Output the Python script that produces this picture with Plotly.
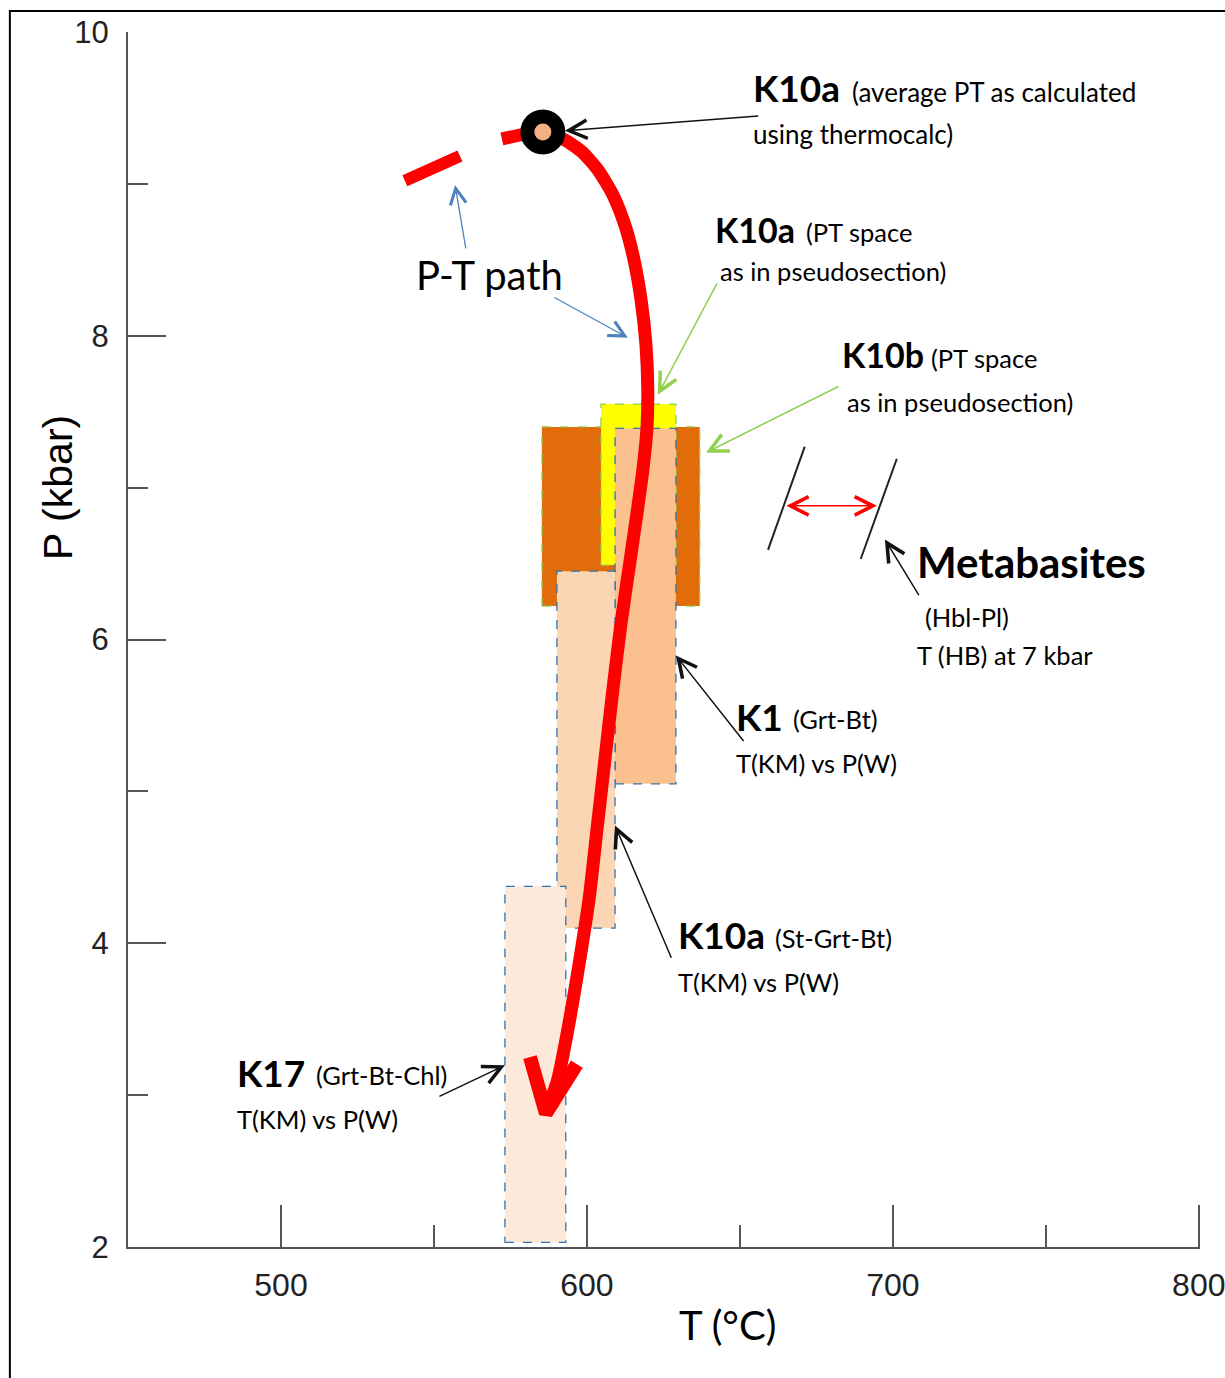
import plotly.graph_objects as go

# ---------------- data ----------------
# P-T path (main, solid)
path_T = [572.2, 585.6, 592.8, 598.4, 603.6, 608.5, 612.4, 615.4, 617.7, 619.3, 619.9,
          619.6, 618.3, 616.3, 613.7, 611.1, 608.5, 605.9, 603.3, 600.7, 597.7,
          594.4, 590.5, 586.6]
path_P = [9.296, 9.342, 9.289, 9.211, 9.092, 8.928, 8.730, 8.500, 8.237, 7.941, 7.645,
          7.382, 7.118, 6.822, 6.461, 6.099, 5.671, 5.211, 4.750, 4.289, 3.895,
          3.500, 3.105, 2.880]
# dashed (earlier) part of the path
dash_T = [540.5, 558.5]
dash_P = [9.020, 9.184]
# arrow head of the P-T path
head_T = [581.4, 586.6, 596.7]
head_P = [3.250, 2.880, 3.204]
# K10a average PT (thermocalc)
avg_T = [585.6]
avg_P = [9.342]

# PT boxes
box_names = ["K10b PT space", "K10a PT space", "K1 Grt-Bt", "K10a St-Grt-Bt", "K17 Grt-Bt-Chl"]
box_Tmin = [585.3, 604.6, 609.2, 590.2, 573.2]
box_Tmax = [636.9, 629.1, 629.1, 609.2, 593.1]
box_Pmin = [6.22, 6.49, 5.05, 4.10, 2.03]
box_Pmax = [7.40, 7.55, 7.39, 6.45, 4.375]

# Metabasites (Hbl-Pl) T(HB) lines at 7 kbar
meta1_T = [671.2, 659.2]
meta1_P = [7.27, 6.59]
meta2_T = [701.3, 689.5]
meta2_P = [7.19, 6.53]
meta_arrow_T = [664.7, 694.8]
meta_arrow_P = [6.88, 6.88]

x_ticks = [500, 600, 700, 800]
y_ticks = [2, 4, 6, 8, 10]

# ---------------- styles ----------------
box_fill = ["#E36C0A", "#FFFF00", "#FAC090", "#FCD5B4", "#FDE9D9"]
box_line = ["#92D050", "#92D050", "#2E75B6", "#2E75B6", "#2E75B6"]
CAL = "Lato, 'Open Sans', sans-serif"
NUM = "'Liberation Sans Narrow', 'Liberation Sans', Arial, sans-serif"

fig = go.Figure()

for i, name in enumerate(box_names):
    fig.add_trace(go.Scatter(
        x=[box_Tmin[i], box_Tmax[i], box_Tmax[i], box_Tmin[i], box_Tmin[i]],
        y=[box_Pmin[i], box_Pmin[i], box_Pmax[i], box_Pmax[i], box_Pmin[i]],
        mode="lines", fill="toself", fillcolor=box_fill[i],
        line=dict(color=box_line[i], width=1.3, dash="dash"),
        name=name, hoverinfo="skip"))

# P-T path
fig.add_trace(go.Scatter(x=dash_T, y=dash_P, mode="lines",
                         line=dict(color="#FF0000", width=12), hoverinfo="skip"))
fig.add_trace(go.Scatter(x=path_T, y=path_P, mode="lines",
                         line=dict(color="#FF0000", width=13, shape="spline", smoothing=0.6),
                         hoverinfo="skip"))
fig.add_trace(go.Scatter(x=head_T, y=head_P, mode="lines",
                         line=dict(color="#FF0000", width=14), hoverinfo="skip"))
fig.add_trace(go.Scatter(x=avg_T, y=avg_P, mode="markers",
                         marker=dict(size=31, color="#F4B183",
                                     line=dict(color="#000000", width=14)),
                         hoverinfo="skip"))

# metabasite lines
for tx, py in [(meta1_T, meta1_P), (meta2_T, meta2_P)]:
    fig.add_trace(go.Scatter(x=tx, y=py, mode="lines",
                             line=dict(color="#222222", width=2), hoverinfo="skip"))

ann = []

def text(x, y, s, size, bold=False, font=CAL, xanchor="left"):
    ann.append(dict(x=x, y=y, xref="x", yref="y", text=("<b>%s</b>" % s) if bold else s,
                    showarrow=False, xanchor=xanchor, yanchor="middle",
                    font=dict(family=font, size=size, color="#000000")))

def arrow(x_tail, y_tail, x_head, y_head, color, width=1.5, size=2.4, both=False):
    d = dict(x=x_head, y=y_head, ax=x_tail, ay=y_tail, xref="x", yref="y",
             axref="x", ayref="y", text="", showarrow=True, arrowhead=5,
             arrowsize=size, arrowwidth=width, arrowcolor=color, standoff=0)
    if both:
        d.update(arrowside="end+start", startarrowhead=5, startarrowsize=size, startstandoff=0)
    ann.append(d)

BIG = 37
MID = 34
SM = 25.5

# K10a average PT
text(653.5, 9.632, "K10a", BIG, bold=True)
text(686.0, 9.605, "(average PT as calculated", 26)
text(653.5, 9.329, "using thermocalc)", 26)
arrow(656.5, 9.447, 592.8, 9.349, "#111111")

# P-T path label
text(568.3, 8.40, "P-T path", 40, xanchor="center")
arrow(560.5, 8.566, 556.9, 8.993, "#4F81BD", width=1.3)
arrow(588.9, 8.257, 613.4, 7.987, "#4F81BD", width=1.3)

# K10a PT space
text(641.3, 8.697, "K10a", MID, bold=True)
text(670.8, 8.684, "(PT space", SM)
text(643.0, 8.428, "as in pseudosection)", SM)
arrow(642.8, 8.355, 623.2, 7.612, "#92D050")

# K10b PT space
text(682.8, 7.875, "K10b", MID, bold=True)
text(711.8, 7.855, "(PT space", SM)
text(684.5, 7.566, "as in pseudosection)", SM)
arrow(682.7, 7.671, 638.9, 7.230, "#92D050")

# Metabasites
text(707.3, 6.513, "Metabasites", 42, bold=True)
text(710.0, 6.151, "(Hbl-Pl)", SM)
text(707.3, 5.895, "T (HB) at 7 kbar", SM)
arrow(708.8, 6.283, 697.4, 6.658, "#111111")
arrow(meta_arrow_T[0], meta_arrow_P[0], meta_arrow_T[1], meta_arrow_P[1], "#FF0000",
      width=1.5, size=2.4, both=True)

# K1
text(648.2, 5.493, "K1", BIG, bold=True)
text(666.8, 5.474, "(Grt-Bt)", SM)
text(648.2, 5.184, "T(KM) vs P(W)", SM)
arrow(651.6, 5.322, 629.1, 5.895, "#111111")

# K10a St-Grt-Bt
text(629.0, 4.059, "K10a", BIG, bold=True)
text(660.8, 4.033, "(St-Grt-Bt)", SM)
text(629.0, 3.743, "T(KM) vs P(W)", SM)
arrow(627.8, 3.895, 609.2, 4.776, "#111111")

# K17
text(485.0, 3.151, "K17", BIG, bold=True)
text(510.8, 3.132, "(Grt-Bt-Chl)", SM)
text(485.0, 2.842, "T(KM) vs P(W)", SM)
arrow(551.3, 2.987, 573.2, 3.197, "#111111")

# axis titles
ann.append(dict(x=-0.066, y=7.0, xref="paper", yref="y", text="P (kbar)", showarrow=False,
                textangle=-90, xanchor="center", yanchor="middle",
                font=dict(family="'Liberation Sans', Arial, sans-serif", size=41, color="#000")))
ann.append(dict(x=646, y=-0.064, xref="x", yref="paper", text="T (°C)", showarrow=False,
                xanchor="center", yanchor="middle",
                font=dict(family=CAL, size=40, color="#000")))

fig.update_layout(
    width=1225, height=1378,
    margin=dict(l=128, r=25, t=32, b=131, autoexpand=False),
    paper_bgcolor="white", plot_bgcolor="white",
    showlegend=False, hovermode=False,
    annotations=ann,
    shapes=[dict(type="rect", xref="paper", yref="paper",
                 x0=-0.1102, x1=1.04, y0=-0.13, y1=1.0173,
                 line=dict(color="#000000", width=2), layer="above")],
    xaxis=dict(range=[450, 800.4], tickvals=x_ticks, ticktext=[str(v) for v in x_ticks],
               automargin=False,
               showgrid=False, zeroline=False, showline=True, linecolor="#555555",
               linewidth=2, ticks="inside", ticklen=42, tickwidth=2, tickcolor="#555555",
               ticklabelstandoff=9, ticklabeloverflow="allow",
               tickfont=dict(family=NUM, size=32, color="#222222"),
               minor=dict(tickvals=[550, 650, 750], ticks="inside", ticklen=22,
                          tickwidth=2, tickcolor="#555555")),
    yaxis=dict(range=[2, 10], tickvals=y_ticks, ticktext=[str(v) for v in y_ticks],
               automargin=False,
               showgrid=False, zeroline=False, showline=True, linecolor="#555555",
               linewidth=2, ticks="inside", ticklen=38, tickwidth=2, tickcolor="#555555",
               ticklabelstandoff=11, ticklabeloverflow="allow",
               tickfont=dict(family=NUM, size=31, color="#222222"),
               minor=dict(tickvals=[3, 5, 7, 9], ticks="inside", ticklen=20,
                          tickwidth=2, tickcolor="#555555")),
)

fig.write_html("out.html")
